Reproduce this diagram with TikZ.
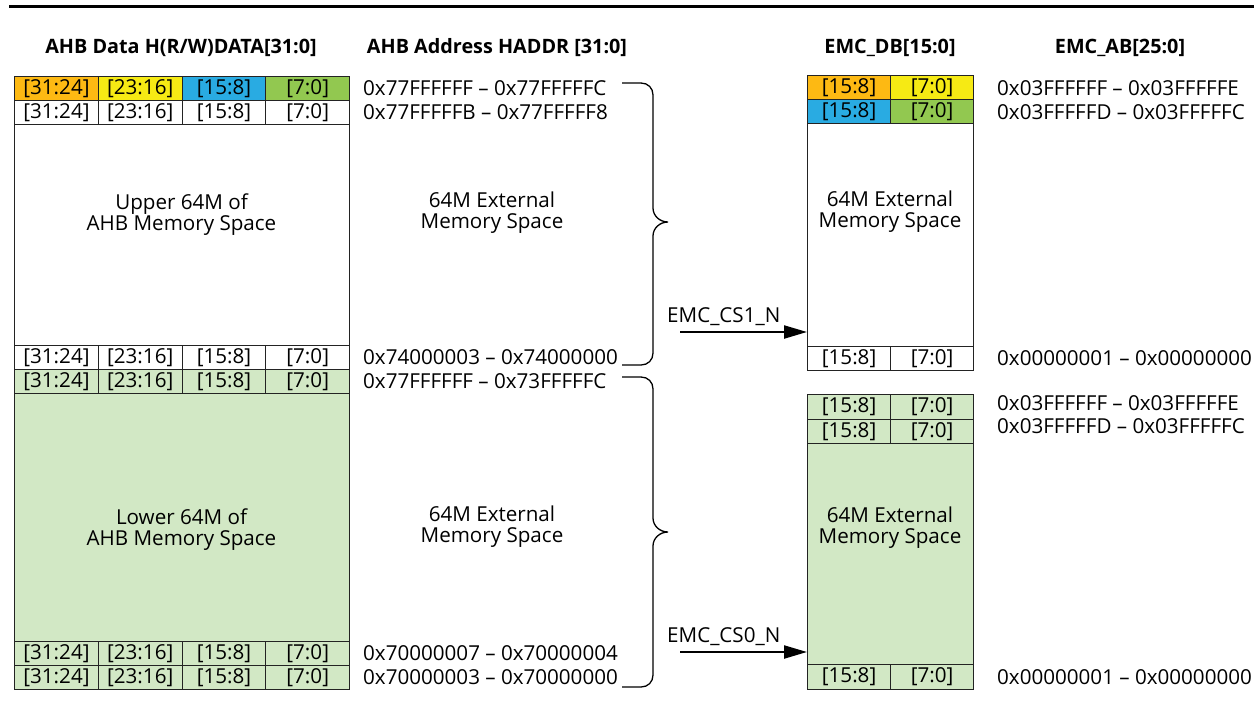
\documentclass[tikz,border=0pt]{standalone}
\usepackage{fontspec}
\setmainfont{Open Sans}
\usetikzlibrary{arrows.meta}
\definecolor{cOrange}{RGB}{253,185,19}
\definecolor{cYellow}{RGB}{246,234,20}
\definecolor{cBlue}{RGB}{41,171,226}
\definecolor{cGreen}{RGB}{146,200,80}
\definecolor{cPale}{RGB}{210,232,197}
\definecolor{cLine}{RGB}{35,35,35}

% one 32-bit row of byte lanes in the AHB data column
\newcommand\quadrow[6]{%
  \node[wide, fill=#3] (#1a) at (14,#2) {[31:24]};
  \node[wide, fill=#4] (#1b) at (97.75,#2) {[23:16]};
  \node[wide, fill=#5] (#1c) at (181.5,#2) {[15:8]};
  \node[wide, fill=#6] (#1d) at (265.25,#2) {[7:0]};
}
% one 16-bit row of byte lanes in the EMC data column
\newcommand\duorow[5]{%
  \node[narrow, fill=#4, minimum height=#3] (#1a) at (807,#2) {[15:8]};
  \node[narrow, fill=#5, minimum height=#3] (#1b) at (890,#2) {[7:0]};
}

\begin{document}
\begin{tikzpicture}[x=1pt,y=-1pt,
  txt/.style={font=\fontsize{20.6}{21}\selectfont},
  cell/.style={txt, draw=cLine, line width=1.2pt, minimum height=24pt,
    inner sep=0pt, anchor=north west},
  wide/.style={cell, minimum width=83.75pt},
  narrow/.style={cell, minimum width=83pt},
  block/.style={draw=cLine, line width=1.2pt, inner sep=0pt, anchor=north west},
  addr/.style={txt, anchor=west, inner sep=0pt},
  head/.style={font=\fontsize{19.8}{22}\selectfont\bfseries, inner sep=0pt},
  area/.style={txt, align=center, inner sep=0pt},
  brace/.style={line width=1.3pt, draw=black},
  sig/.style={-{Triangle[length=23pt,width=13pt]}, line width=2.2pt}
]
\useasboundingbox (0,0) rectangle (1254,710);

% heading rule
\draw[line width=3pt] (9,6) -- (1254,6);

% column headings
\node[head] (hdata) at (181,48) {AHB Data H(R/W)DATA[31:0]};
\node[head] (haddr) at (497,48) {AHB Address HADDR [31:0]};
\node[head] (hdb)   at (890,48) {EMC\_DB[15:0]};
\node[head] (hab)   at (1120,48) {EMC\_AB[25:0]};

% AHB data column: upper 64M
\node[block, fill=white, minimum width=335pt, minimum height=293pt] (lupper) at (14,76) {};
\quadrow{ua}{76}{cOrange}{cYellow}{cBlue}{cGreen}
\quadrow{ub}{100}{white}{white}{white}{white}
\quadrow{uc}{345}{white}{white}{white}{white}
\node[area] (lupperlab) at (181.5,215) {Upper 64M of\\AHB Memory Space};

% AHB data column: lower 64M
\node[block, fill=cPale, minimum width=335pt, minimum height=320pt] (llower) at (14,369) {};
\quadrow{la}{369}{cPale}{cPale}{cPale}{cPale}
\quadrow{lb}{641}{cPale}{cPale}{cPale}{cPale}
\quadrow{lc}{665}{cPale}{cPale}{cPale}{cPale}
\node[area] (llowerlab) at (181.5,530) {Lower 64M of\\AHB Memory Space};

% AHB address column
\node[addr] (a1) at (363,88)  {0x77FFFFFF – 0x77FFFFFC};
\node[addr] (a2) at (363,112) {0x77FFFFFB – 0x77FFFFF8};
\node[addr] (a3) at (363,357) {0x74000003 – 0x74000000};
\node[addr] (a4) at (363,381) {0x77FFFFFF – 0x73FFFFFC};
\node[addr] (a5) at (363,653) {0x70000007 – 0x70000004};
\node[addr] (a6) at (363,677) {0x70000003 – 0x70000000};
\node[area] (mupper) at (492,213) {64M External\\Memory Space};
\node[area] (mlower) at (492,527) {64M External\\Memory Space};

% braces grouping each 64M range
\draw[brace] (622,83) -- (641,83) .. controls (648,83) and (653,88) .. (653,95)
  -- (653,208) .. controls (653,216) and (660,222) .. (668,222)
  .. controls (660,222) and (653,228) .. (653,236)
  -- (653,353) .. controls (653,360) and (648,365) .. (641,365) -- (622,365);
\draw[brace] (622,377) -- (641,377) .. controls (648,377) and (653,382) .. (653,389)
  -- (653,518) .. controls (653,526) and (660,532) .. (668,532)
  .. controls (660,532) and (653,538) .. (653,546)
  -- (653,675) .. controls (653,682) and (648,687) .. (641,687) -- (622,687);

% EMC data column: chip select 1
\node[block, fill=white, minimum width=166pt, minimum height=295pt] (rupper) at (807,75) {};
\duorow{ra}{75}{24pt}{cOrange}{cYellow}
\duorow{rb}{99}{24pt}{cBlue}{cGreen}
\duorow{rc}{346}{24pt}{white}{white}
\node[area] (rupperlab) at (890,212) {64M External\\Memory Space};

% EMC data column: chip select 0
\node[block, fill=cPale, minimum width=166pt, minimum height=295pt] (rlower) at (807,394) {};
\duorow{rd}{394}{24.5pt}{cPale}{cPale}
\duorow{re}{418.5}{24.5pt}{cPale}{cPale}
\duorow{rf}{664}{25pt}{cPale}{cPale}
\node[area] (rlowerlab) at (890,528) {64M External\\Memory Space};

% chip-select signals
\coordinate (cs1) at (680,332);
\coordinate (cs0) at (680,652);
\draw[sig] (cs1) -- (rupper.west |- cs1);
\draw[sig] (cs0) -- (rlower.west |- cs0);
\node[addr] (cs1lab) at (667,317) {EMC\_CS1\_N};
\node[addr] (cs0lab) at (667,637) {EMC\_CS0\_N};

% EMC address column
\node[addr] (b1) at (997,88)  {0x03FFFFFF – 0x03FFFFFE};
\node[addr] (b2) at (997,112) {0x03FFFFFD – 0x03FFFFFC};
\node[addr] (b3) at (997,358) {0x00000001 – 0x00000000};
\node[addr] (b4) at (997,403) {0x03FFFFFF – 0x03FFFFFE};
\node[addr] (b5) at (997,426) {0x03FFFFFD – 0x03FFFFFC};
\node[addr] (b6) at (997,677) {0x00000001 – 0x00000000};
\end{tikzpicture}
\end{document}
